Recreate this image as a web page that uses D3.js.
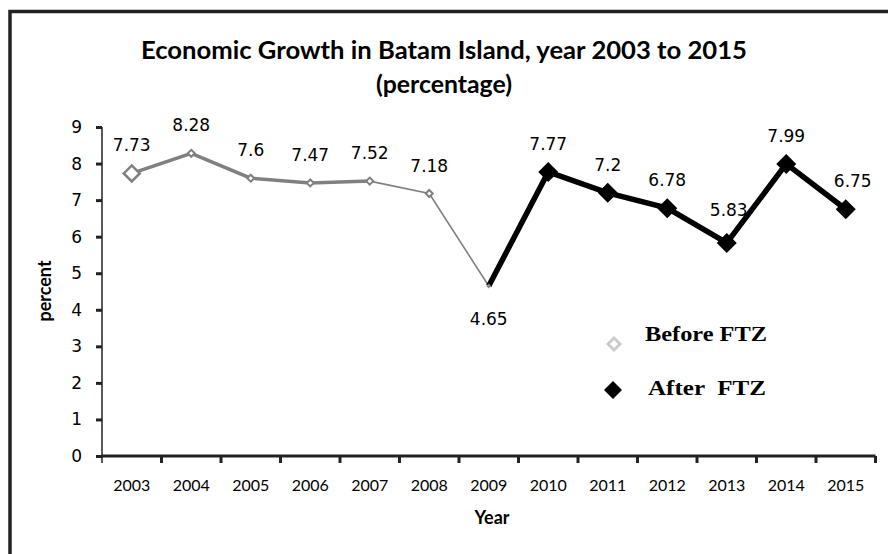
<!DOCTYPE html>
<html><head><meta charset="utf-8">
<script src="https://cdn.jsdelivr.net/npm/d3@7"></script>
<style>body{margin:0;background:#fff}</style>
</head><body>
<svg id="c" width="888" height="554"></svg>
<script>
const years = ["2003","2004","2005","2006","2007","2008","2009","2010","2011","2012","2013","2014","2015"];
const growth = [7.73, 8.28, 7.6, 7.47, 7.52, 7.18, 4.65, 7.77, 7.2, 6.78, 5.83, 7.99, 6.75];
const beforeYears = ["2003","2004","2005","2006","2007","2008","2009"];
const afterYears = ["2009","2010","2011","2012","2013","2014","2015"];
const yTicks = [0,1,2,3,4,5,6,7,8,9];
const titleLines = ["Economic Growth in Batam Island, year 2003 to 2015", "(percentage)"];
const legendLabels = ["Before FTZ", "After  FTZ"];

const data = years.map((y,i)=>({year:y, v:growth[i]}));
const svg = d3.select("#c");

// frame
svg.append("path").attr("d","M10,560 L10,11.5 L892,11.5").attr("fill","none").attr("stroke","#222").attr("stroke-width",3.5);

const x = d3.scaleBand().domain(years).range([102,875.5]);
const y = d3.scaleLinear().domain([0,9]).range([456,127]);
const cx = d => x(d.year) + x.bandwidth()/2;

// title
svg.append("text").attr("x",444).attr("y",59).attr("text-anchor","middle")
  .attr("font-family","Lato, 'Open Sans', sans-serif").attr("font-weight","bold").attr("font-size",25)
  .attr("textLength",606).attr("lengthAdjust","spacingAndGlyphs").text(titleLines[0]);
svg.append("text").attr("x",444).attr("y",93).attr("text-anchor","middle")
  .attr("font-family","Lato, 'Open Sans', sans-serif").attr("font-weight","bold").attr("font-size",25)
  .attr("textLength",136).attr("lengthAdjust","spacingAndGlyphs").text(titleLines[1]);

// y axis
const ya = svg.append("g").attr("transform","translate(102,0)")
  .call(d3.axisLeft(y).tickValues(yTicks).tickSize(6).tickPadding(14));
ya.select(".domain").attr("stroke","#222").attr("stroke-width",1.5).attr("d","M0,127V456");
ya.selectAll(".tick line").attr("stroke","#222").attr("stroke-width",3);
ya.selectAll(".tick text").attr("font-family","'DejaVu Sans', Verdana, sans-serif").attr("font-size",17).attr("fill","#000");

// x axis
const xa = svg.append("g").attr("transform","translate(0,456)")
  .call(d3.axisBottom(x).tickSize(0).tickPadding(24));
xa.select(".domain").attr("stroke","#222").attr("stroke-width",3).attr("d","M102,0H875.5");
xa.selectAll(".tick text").attr("font-family","Lato, 'Open Sans', sans-serif").attr("font-size",16).attr("fill","#000");
xa.selectAll("line.bt").data(years.concat(["end"])).enter().append("line").attr("class","bt")
  .attr("x1",(d,i)=> i<years.length ? x(d) : x.range()[1]).attr("x2",(d,i)=> i<years.length ? x(d) : x.range()[1])
  .attr("y1",0).attr("y2",7).attr("stroke","#222").attr("stroke-width",(d,i)=>i===0?1.5:3);

// axis titles
svg.append("text").attr("transform","translate(51,291) rotate(-90)").attr("text-anchor","middle")
  .attr("font-family","Lato, 'Open Sans', sans-serif").attr("font-weight","bold").attr("font-size",18).text("percent");
svg.append("text").attr("x",492).attr("y",524).attr("text-anchor","middle")
  .attr("font-family","Lato, 'Open Sans', sans-serif").attr("font-weight","bold").attr("font-size",18).text("Year");

const line = d3.line().x(cx).y(d=>y(d.v));
const before = data.filter(d=>beforeYears.includes(d.year));
const after = data.filter(d=>afterYears.includes(d.year));

// before lines
svg.append("path").datum(before.slice(0,5)).attr("d",line).attr("fill","none").attr("stroke","#808080").attr("stroke-width",3.5);
svg.append("path").datum(before.slice(4)).attr("d",line).attr("fill","none").attr("stroke","#808080").attr("stroke-width",1.6);
// after line
svg.append("path").datum(after).attr("d",line).attr("fill","none").attr("stroke","#000").attr("stroke-width",5.5).attr("stroke-linejoin","miter");

const diamond = r => `M0,${-r}L${r},0L0,${r}L${-r},0Z`;
// before markers
svg.selectAll("path.bm").data(before.slice(0,6)).enter().append("path").attr("class","bm")
  .attr("transform",d=>`translate(${cx(d)},${y(d.v)})`)
  .attr("d",(d,i)=> i===0 ? diamond(8) : diamond(3.5))
  .attr("fill","#fff").attr("stroke","#808080").attr("stroke-width",(d,i)=>i===0?2.5:2);
// after markers
svg.selectAll("path.am").data(after.slice(1)).enter().append("path").attr("class","am")
  .attr("transform",d=>`translate(${cx(d)},${y(d.v)})`)
  .attr("d",diamond(10)).attr("fill","#000");
svg.append("path").attr("transform",`translate(${cx(data[6])},${y(data[6].v)})`).attr("d",diamond(2.5)).attr("fill","#888");

// value labels
svg.selectAll("text.lbl").data(data).enter().append("text").attr("class","lbl")
  .attr("x",d=>cx(d)+(d.year==="2015"?7:(d.year==="2013"?2:0)))
  .attr("y",d=> d.year==="2009" ? y(d.v)+39 : y(d.v)-(d.year==="2013"?27:22))
  .attr("text-anchor","middle").attr("font-family","'DejaVu Sans', Verdana, sans-serif").attr("font-size",17).attr("fill","#000")
  .text(d=>d.v);

// legend
const lg = svg.append("g");
lg.append("path").attr("transform","translate(614,344)").attr("d",diamond(6)).attr("fill","#fff").attr("stroke","#ccc").attr("stroke-width",3);
lg.append("path").attr("transform","translate(613,390)").attr("d",diamond(9)).attr("fill","#000");
lg.append("text").attr("x",645).attr("y",341).attr("font-family","'Liberation Serif', 'Times New Roman', serif").attr("font-weight","bold").attr("font-size",21)
  .attr("textLength",122).attr("lengthAdjust","spacingAndGlyphs").text(legendLabels[0]);
lg.append("text").attr("x",648).attr("y",395).attr("font-family","'Liberation Serif', 'Times New Roman', serif").attr("font-weight","bold").attr("font-size",21)
  .attr("textLength",118).attr("lengthAdjust","spacingAndGlyphs").style("white-space","pre").text(legendLabels[1]);
</script>
</body></html>
